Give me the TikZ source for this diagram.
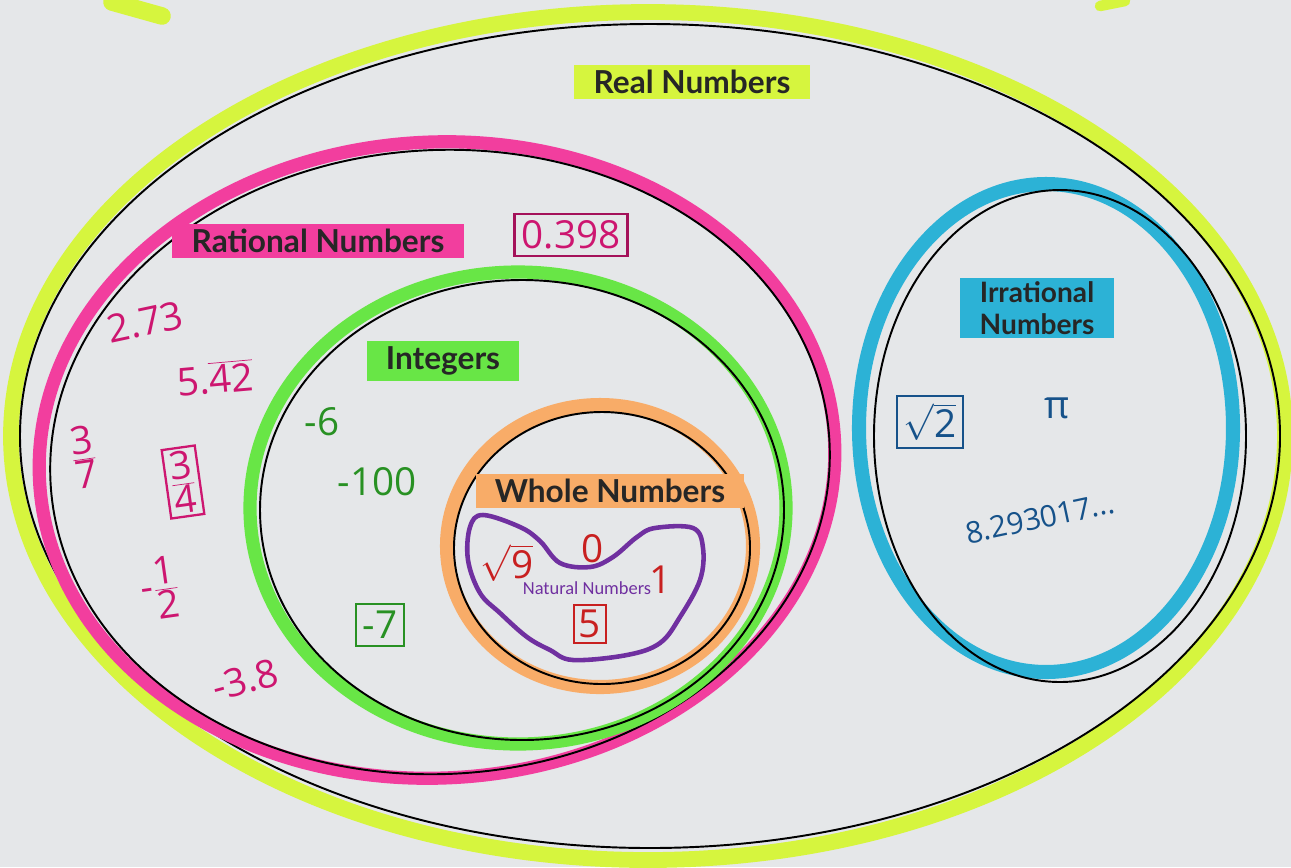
\documentclass[tikz,border=0pt]{standalone}
\usepackage{fontspec}
\setmainfont{Lato}
\newfontfamily\handfont{Open Sans}
\newfontfamily\calibfont{Carlito}
\definecolor{paper}{RGB}{229,231,233}
\definecolor{hlyel}{RGB}{214,245,62}
\definecolor{hlpink}{RGB}{242,62,158}
\definecolor{hlgreen}{RGB}{104,230,70}
\definecolor{hlorange}{RGB}{248,172,104}
\definecolor{hlteal}{RGB}{44,178,214}
\definecolor{natpurple}{RGB}{112,48,160}
\definecolor{inkpink}{RGB}{205,22,112}
\definecolor{inkgreen}{RGB}{40,145,35}
\definecolor{inkred}{RGB}{200,32,32}
\definecolor{inkblue}{RGB}{22,82,138}
\tikzset{
  marker/.style={line width=#1},
  setname/.style={font=\fontsize{18}{21}\selectfont\bfseries, text=black!85, inner xsep=11pt, inner ysep=3pt},
  handnum/.style={font=\handfont\fontsize{22}{24}\selectfont},
  boxed/.style={draw, line width=1.3pt, inner sep=4pt},
}
\begin{document}
\begin{tikzpicture}[x=0.02cm, y=-0.02cm]
    \fill[paper] (0,0) rectangle (1291,867);
    \useasboundingbox (0,0) rectangle (1291,867);

    % yellow bits at the top edge
    \draw[hlyel, marker=10pt, line cap=round] (112,2) -- (162,16);
    \draw[hlyel, marker=6pt, line cap=round] (1100,6) -- (1125,1);

    % real numbers
    \draw[hlyel, marker=9pt] (648,436) ellipse [x radius=637, y radius=424];
    \draw[line width=1.1pt] (650,436) ellipse [x radius=630, y radius=412];
    \node[setname, fill=hlyel] (real) at (692,82) {Real Numbers};

    % rational numbers
    \draw[hlpink, marker=7.5pt, rotate around={3:(437,460)}] (437,460) ellipse [x radius=398, y radius=318];
    \draw[line width=1.1pt, rotate around={3:(440,462)}] (440,462) ellipse [x radius=390, y radius=312];
    \node[setname, fill=hlpink] (rational) at (318,241) {Rational Numbers};
    \node[handnum, text=inkpink, boxed, draw=inkpink!80!black] (zp398) at (571,235) {0.398};
    \node[handnum, text=inkpink, rotate=12] (twoseventhree) at (145,322) {2.73};
    \node[handnum, text=inkpink, rotate=5] (fivefortytwo) at (215,378) {5.$\overline{\mbox{42}}$};
    \node[handnum, text=inkpink, rotate=8] (threesevenths) at (84,457) {$\frac{\mbox{3}}{\mbox{7}}$};
    \node[handnum, text=inkpink, boxed, draw=inkpink, rotate=8, inner sep=2pt] (threequarters) at (183,482) {$\frac{\mbox{3}}{\mbox{4}}$};
    \node[handnum, text=inkpink, rotate=8] (minushalf) at (160,588) {-$\frac{\mbox{1}}{\mbox{2}}$};
    \node[handnum, text=inkpink, rotate=15] (minusthreeeight) at (245,680) {-3.8};

    % integers
    \draw[hlgreen, marker=7.5pt] (518,508) ellipse [x radius=268, y radius=236];
    \draw[line width=1.1pt] (522,510) ellipse [x radius=262, y radius=230];
    \node[setname, fill=hlgreen] (integers) at (443,361) {Integers};
    \node[handnum, text=inkgreen] (minussix) at (322,422) {-6};
    \node[handnum, text=inkgreen] (minushundred) at (377,482) {-100};
    \node[handnum, text=inkgreen, boxed, draw=inkgreen] (minusseven) at (380,625) {-7};

    % whole numbers
    \draw[hlorange, marker=8pt] (600,546) ellipse [x radius=153, y radius=141];
    \draw[line width=1.1pt] (602,548) ellipse [x radius=148, y radius=136];
    \node[setname, fill=hlorange] (whole) at (610,491) {Whole Numbers};
    \node[handnum, text=inkred] (rootnine) at (507,563) {$\sqrt{\mbox{9}}$};
    \node[handnum, text=inkred] (zero) at (593,549) {0};
    \node[handnum, text=inkred] (one) at (661,580) {1};
    \node[handnum, text=inkred, boxed, draw=inkred, inner sep=3pt] (five) at (590,624) {5};

    % natural numbers
    \draw[natpurple, line width=2.6pt] plot[smooth cycle, tension=0.6] coordinates {
        (483,515) (520,527) (540,541) (560,563) (590,567) (613,557) (637,537)
        (655,528) (693,528) (703,548) (700,580) (680,617) (660,643) (627,655)
        (573,660) (550,650) (527,637) (500,613) (480,593) (468,560) (470,527)};
    \node[font=\calibfont\fontsize{10.5}{12}\selectfont, text=natpurple] (natural) at (587,588) {Natural Numbers};

    % irrational numbers
    \draw[hlteal, marker=8pt] (1046,428) ellipse [x radius=187, y radius=244];
    \draw[line width=1.1pt] (1060,436) ellipse [x radius=186, y radius=246];
    \node[setname, fill=hlteal, align=center, font=\fontsize{16}{18}\selectfont\bfseries, inner ysep=2pt] (irrational) at (1037,308) {Irrational\\Numbers};
    \node[handnum, text=inkblue, boxed, draw=inkblue] (roottwo) at (930,422) {$\sqrt{\mbox{2}}$};
    \node[handnum, text=inkblue] (pi) at (1057,408) {π};
    \node[handnum, text=inkblue, rotate=12, font=\handfont\fontsize{17}{19}\selectfont] (eightpoint) at (1040,518) {8.293017...};
\end{tikzpicture}
\end{document}
